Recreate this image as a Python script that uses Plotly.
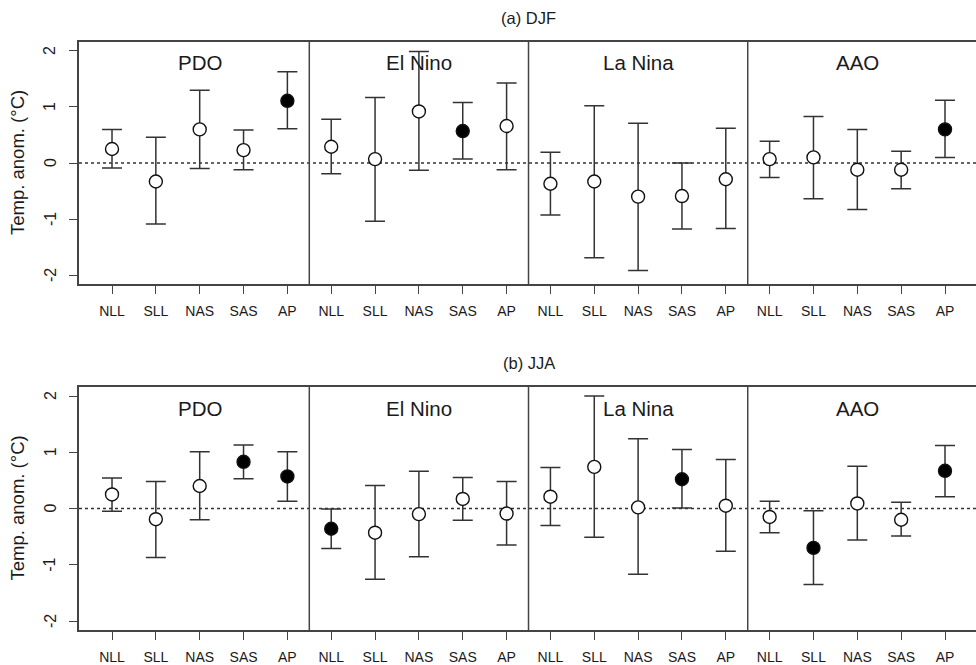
import plotly.graph_objects as go

regions = ["NLL", "SLL", "NAS", "SAS", "AP"]
modes = ["PDO", "El Nino", "La Nina", "AAO"]
panel_titles = ["(a) DJF", "(b) JJA"]
y_ticks = [-2, -1, 0, 1, 2]

# DJF (order: PDO, El Nino, La Nina, AAO; each NLL, SLL, NAS, SAS, AP)
djf_mean = [0.25, -0.33, 0.60, 0.23, 1.11,
            0.29, 0.07, 0.92, 0.57, 0.66,
            -0.37, -0.33, -0.60, -0.59, -0.29,
            0.07, 0.10, -0.12, -0.12, 0.60]
djf_upper = [0.60, 0.46, 1.30, 0.59, 1.63,
             0.78, 1.17, 1.99, 1.08, 1.43,
             0.19, 1.02, 0.71, 0.00, 0.62,
             0.39, 0.83, 0.60, 0.21, 1.12]
djf_lower = [-0.09, -1.09, -0.10, -0.12, 0.61,
             -0.19, -1.04, -0.13, 0.07, -0.12,
             -0.93, -1.69, -1.92, -1.18, -1.17,
             -0.26, -0.64, -0.83, -0.46, 0.10]
djf_sig = [0, 0, 0, 0, 1,
           0, 0, 0, 1, 0,
           0, 0, 0, 0, 0,
           0, 0, 0, 0, 1]

# JJA
jja_mean = [0.25, -0.19, 0.40, 0.83, 0.57,
            -0.36, -0.43, -0.10, 0.17, -0.09,
            0.21, 0.74, 0.02, 0.52, 0.05,
            -0.15, -0.70, 0.09, -0.20, 0.67]
jja_upper = [0.54, 0.48, 1.01, 1.13, 1.01,
             -0.01, 0.41, 0.66, 0.55, 0.48,
             0.73, 2.00, 1.24, 1.05, 0.87,
             0.13, -0.04, 0.75, 0.11, 1.12]
jja_lower = [-0.05, -0.87, -0.20, 0.53, 0.13,
             -0.71, -1.26, -0.86, -0.21, -0.65,
             -0.30, -0.51, -1.17, 0.01, -0.76,
             -0.43, -1.35, -0.56, -0.49, 0.21]
jja_sig = [0, 0, 0, 1, 1,
           1, 0, 0, 0, 0,
           0, 0, 0, 1, 0,
           0, 1, 0, 0, 1]

FONT = "Liberation Sans, Arial, Helvetica, sans-serif"
TXT = "#1a1a1a"
LINE = "#444444"
W, H = 976, 665

positions = list(range(1, len(modes) * len(regions) + 1))
tick_text = regions * len(modes)

panels = [
    (djf_mean, djf_upper, djf_lower, djf_sig),
    (jja_mean, jja_upper, jja_lower, jja_sig),
]
# plot areas in pixels (top, bottom)
px_boxes = [(42, 284), (387, 630)]

fig = go.Figure()
shapes = []
annotations = []

for i, (mean, upper, lower, sig) in enumerate(panels):
    ax = "" if i == 0 else str(i + 1)
    xa, ya = "x" + ax, "y" + ax
    fig.add_trace(go.Scatter(
        x=positions, y=mean, mode="markers", xaxis=xa, yaxis=ya,
        marker=dict(size=13, color=["black" if s else "white" for s in sig],
                    line=dict(color="#111111", width=1.4)),
        error_y=dict(type="data", symmetric=False,
                     array=[u - m for u, m in zip(upper, mean)],
                     arrayminus=[m - l for m, l in zip(mean, lower)],
                     color="#333333", thickness=1.5, width=10),
        showlegend=False, cliponaxis=False, hoverinfo="skip"))

    top, bot = px_boxes[i]
    dom = [1 - bot / H, 1 - top / H]
    axis_common = dict(showgrid=False, zeroline=False)
    fig.update_layout(**{
        ("xaxis" + ax): dict(
            domain=[0, 1], range=[0.247, 20.707], anchor=ya,
            tickmode="array", tickvals=positions, ticktext=tick_text,
            ticks="outside", ticklen=8, tickwidth=1.2, tickcolor=LINE,
            showline=True, linecolor=LINE, linewidth=1.5, mirror=True,
            ticklabelstandoff=5,
            tickfont=dict(family=FONT, size=14, color=TXT), **axis_common),
        ("yaxis" + ax): dict(
            domain=dom, range=[-2.16, 2.16], anchor=xa,
            tickmode="array", tickvals=y_ticks, ticktext=["" for _ in y_ticks],
            ticks="outside", ticklen=8, tickwidth=1.2, tickcolor=LINE,
            showline=True, linecolor=LINE, linewidth=1.5, mirror=False,
            **axis_common),
    })

    # zero dotted line
    shapes.append(dict(type="line", xref=xa + " domain", yref=ya,
                       x0=0, x1=1, y0=0, y1=0,
                       line=dict(color="#333333", width=1.4, dash="dot"),
                       layer="below"))
    # group separators
    for g in range(1, len(modes)):
        xs = g * len(regions) + 0.5
        shapes.append(dict(type="line", xref=xa, yref=ya + " domain",
                           x0=xs, x1=xs, y0=0, y1=1,
                           line=dict(color=LINE, width=1.5), layer="below"))
    # group labels
    for g, name in enumerate(modes):
        annotations.append(dict(text=name, xref=xa, yref=ya + " domain",
                                x=g * len(regions) + 3, y=1, yshift=-21,
                                xanchor="center", yanchor="middle", showarrow=False,
                                font=dict(family=FONT, size=20.5, color=TXT)))
    # panel title
    annotations.append(dict(text=panel_titles[i], xref=xa, yref=ya + " domain",
                            x=10.5, y=1, yshift=24, xanchor="center", yanchor="middle",
                            showarrow=False, font=dict(family=FONT, size=16.5, color=TXT)))
    # y tick labels (rotated as in the original)
    for t in y_ticks:
        annotations.append(dict(text=str(t), xref="paper", yref=ya, x=0, y=t,
                                xshift=-29, xanchor="center", yanchor="middle",
                                textangle=-90, showarrow=False,
                                font=dict(family=FONT, size=16, color=TXT)))
    # y axis title
    annotations.append(dict(text="Temp. anom. (°C)", xref="paper", yref=ya, x=0, y=0,
                            xshift=-62, xanchor="center", yanchor="middle",
                            textangle=-90, showarrow=False,
                            font=dict(family=FONT, size=18.5, color=TXT)))

fig.update_layout(
    width=W, height=H,
    margin=dict(l=79, r=0, t=0, b=0, autoexpand=False),
    plot_bgcolor="white", paper_bgcolor="white",
    shapes=shapes, annotations=annotations,
    font=dict(family=FONT, color=TXT),
)

fig.write_html("out.html")
